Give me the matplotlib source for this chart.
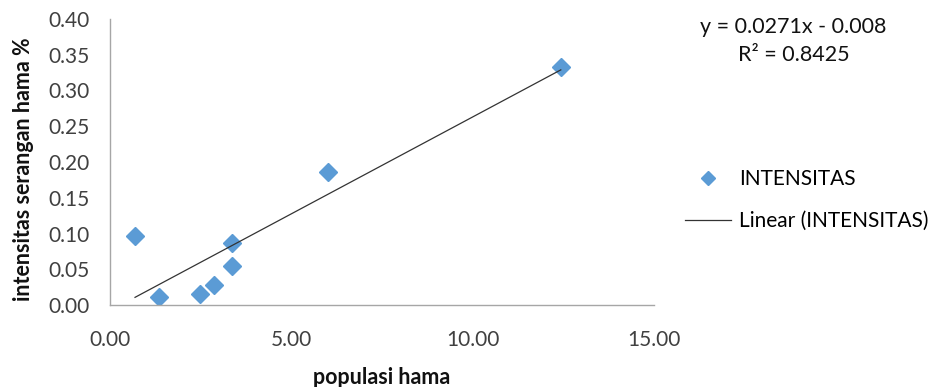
import matplotlib
matplotlib.use("Agg")
import matplotlib.pyplot as plt
import numpy as np

plt.rcParams['font.family'] = ['Lato', 'DejaVu Sans']

populasi = [0.69, 1.36, 2.49, 2.88, 3.37, 3.37, 6.01, 12.43]
intensitas = [0.0965, 0.0116, 0.015, 0.028, 0.087, 0.0545, 0.186, 0.333]
slope = 0.0271
intercept = -0.008
r2 = 0.8425
xticks = [0, 5, 10, 15]
yticks = [0.00, 0.05, 0.10, 0.15, 0.20, 0.25, 0.30, 0.35, 0.40]

fig = plt.figure(figsize=(9.35, 3.87), dpi=100)
ax = fig.add_axes([110/935, 1-305/387, (654-110)/935, (305-19)/387])

blue = '#5b9bd5'
sc, = ax.plot(populasi, intensitas, linestyle='none', marker='D', markersize=9,
              color=blue, label='INTENSITAS')
xl = np.array([min(populasi), max(populasi)])
ln, = ax.plot(xl, slope*xl + intercept, color='#333333', linewidth=0.9,
              label='Linear (INTENSITAS)')

ax.set_xlim(0, 15)
ax.set_ylim(0, 0.40)
ax.set_xticks(xticks)
ax.set_xticklabels([f"{v:.2f}" for v in xticks])
ax.set_yticks(yticks)
ax.set_yticklabels([f"{v:.2f}" for v in yticks])
ax.tick_params(length=0, labelsize=15, colors='#404040')
ax.tick_params(axis='y', pad=15)
ax.tick_params(axis='x', pad=18)
for s in ['top', 'right']:
    ax.spines[s].set_visible(False)
for s in ['left', 'bottom']:
    ax.spines[s].set_color('#a6a6a6')
    ax.spines[s].set_linewidth(1.0)

ax.set_xlabel('populasi hama', fontsize=15.5, fontweight='bold', labelpad=12, color='#111111')
ax.set_ylabel('intensitas serangan hama %', fontsize=15.5, fontweight='bold',
              color='#111111')
ax.yaxis.set_label_coords(-76/544, 0.475)

fig.text(793/935, 1-27/387, f'y = {slope}x - {abs(intercept)}', ha='center', va='center',
         fontsize=15.5, color='#111111')
fig.text(794/935, 1-55/387, f'R² = {r2}', ha='center', va='center',
         fontsize=15.5, color='#111111')

leg = fig.legend(handles=[sc, ln], loc='center left', bbox_to_anchor=(685/935, 1-200/387),
                 frameon=False, fontsize=15, handlelength=2.2, handletextpad=0.4,
                 labelspacing=1.05, markerscale=0.8, borderpad=0, borderaxespad=0)

fig.savefig('out.png', dpi=100)
